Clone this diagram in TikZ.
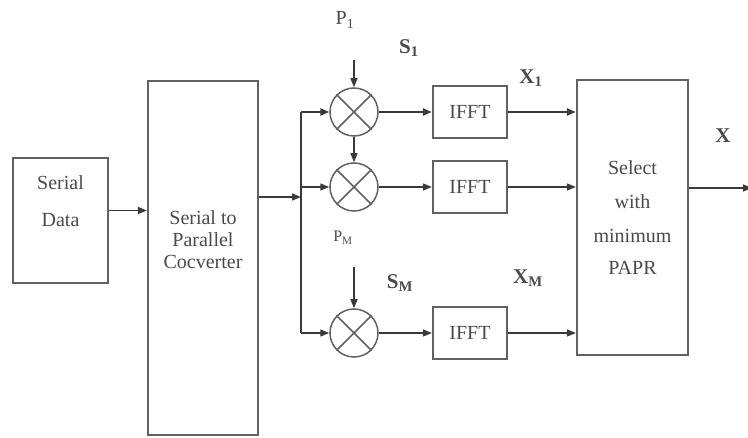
\documentclass[tikz,border=0pt]{standalone}
\usepackage{fontspec}
\setmainfont{Liberation Serif}
\usetikzlibrary{arrows.meta}
\definecolor{ln}{HTML}{3A3A3A}
\definecolor{tx}{HTML}{4A4A4A}
\tikzset{
  box/.style={draw=ln!80!white, line width=2.2pt, fill=white, inner sep=0pt},
  btxt/.style={text=tx, font=\fontsize{20}{24}\selectfont, align=center, inner sep=0pt},
  lbl/.style={text=tx, font=\fontsize{20}{24}\selectfont, inner sep=0pt},
  mix/.style={draw=ln!80!white, line width=1.5pt, circle, minimum size=48pt, inner sep=0pt},
  conn/.style={draw=ln, line width=1.4pt},
  thk/.style={draw=ln, line width=2.5pt},
  arr/.style={-{Triangle[length=9pt,width=7pt]}}
}
\begin{document}
\begin{tikzpicture}[x=1pt,y=-1pt]
\useasboundingbox (0,0) rectangle (748,438);
% boxes
\node[box, minimum width=95pt, minimum height=125pt] (sd) at (60.5,220.5) {};
\node[btxt] (sdt) at (60.5,201) {Serial\\[13pt]Data};
\node[box, minimum width=110pt, minimum height=354pt] (sp) at (203,258) {};
\node[btxt] (spt) at (203,240) {Serial to\\[-2pt]Parallel\\[-2pt]Cocverter};
\node[box, minimum width=111pt, minimum height=275pt, btxt] (sel) at (632.5,217.5) {Select\\[10pt]with\\[10pt]minimum\\[8pt]PAPR};
% mixers
\foreach \n/\y in {m1/112, m2/187, m3/333}{
  \node[mix] (\n) at (354,\y) {};
  \draw[ln!80!white, line width=1.5pt] (\n.north east) -- (\n.south west) (\n.north west) -- (\n.south east);
}
% IFFT
\node[box, minimum width=74pt, minimum height=52pt, btxt] (f1) at (470,112) {IFFT};
\node[box, minimum width=74pt, minimum height=52pt, btxt] (f2) at (470,187) {IFFT};
\node[box, minimum width=74pt, minimum height=52pt, btxt] (f3) at (470,333) {IFFT};
% labels
\node[lbl] (p1) at (345,20) {P\textsubscript{1}};
\node[lbl] (pm) at (343,238) {\fontsize{16}{18}\selectfont P\textsubscript{M}};
\node[lbl, font=\fontsize{21}{24}\selectfont\bfseries] (s1) at (409,48) {S\textsubscript{1}};
\node[lbl, font=\fontsize{21}{24}\selectfont\bfseries] (sm) at (400,283) {S\textsubscript{M}};
\node[lbl, font=\fontsize{21}{24}\selectfont\bfseries] (x1) at (531,78) {X\textsubscript{1}};
\node[lbl, font=\fontsize{21}{24}\selectfont\bfseries] (xm) at (528,278) {X\textsubscript{M}};
\node[lbl, font=\fontsize{21}{24}\selectfont\bfseries] (xo) at (723,136) {X};
% coordinates
\coordinate (bus) at (301,197);
\coordinate (bt) at (301,112);
\coordinate (bm) at (301,187);
\coordinate (bb) at (301,333);
\coordinate (p1a) at (354,60);
\coordinate (pma) at (354,267);
\coordinate (out) at (752,188);
% connectors
\draw[conn, arr] ([yshift=10pt]sd.east) -- ([yshift=10pt]sd.east -| sp.west);
\draw[conn, arr] (sp.east |- bus) -- (bus);
\draw[thk] (bt) -- (bb);
\draw[thk, arr] (bt) -- (m1.west);
\draw[conn, arr] (bm) -- (m2.west);
\draw[conn, arr] (bb) -- (m3.west);
\draw[conn, arr] (p1a) -- (m1.north);
\draw[conn, arr] (m1.south) -- (m2.north);
\draw[conn, arr] (pma) -- (m3.north);
\draw[thk, arr] (m1.east) -- (f1.west);
\draw[conn, arr] (m2.east) -- (f2.west);
\draw[conn, arr] (m3.east) -- (f3.west);
\draw[thk, arr] (f1.east) -- (f1.east -| sel.west);
\draw[conn, arr] (f2.east) -- (f2.east -| sel.west);
\draw[conn, arr] (f3.east) -- (f3.east -| sel.west);
\draw[conn, arr] (sel.east |- out) -- (out);
\end{tikzpicture}
\end{document}
